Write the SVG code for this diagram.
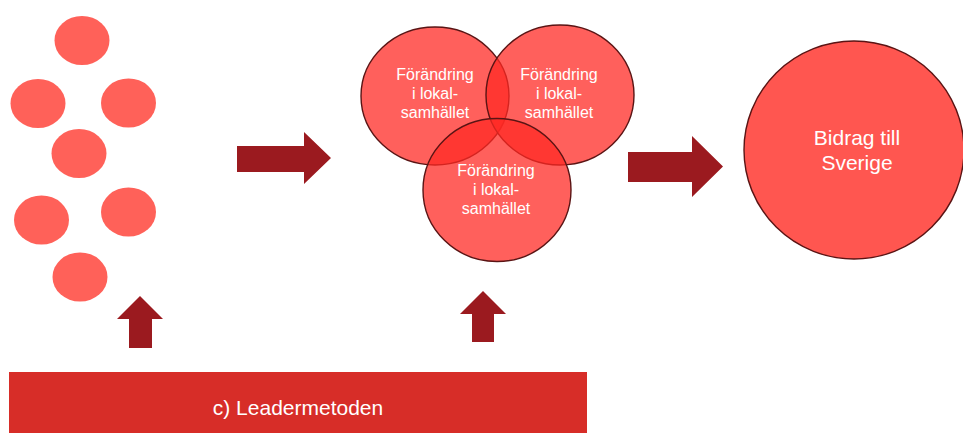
<svg xmlns="http://www.w3.org/2000/svg" width="963" height="433" viewBox="0 0 963 433">
<style>
.dot{fill:#FF6159}
.arrow{fill:#9B1A1F}
.venn{fill:rgb(255,40,35);fill-opacity:0.74;stroke:#5A1414;stroke-width:1.4}
.big{fill:#FF5650;stroke:#5A1414;stroke-width:1.4}
.t{font-family:"Liberation Sans",Arial,sans-serif;fill:#FFFFFF;text-anchor:middle}
.vt{font-size:16px}
</style>
<rect width="963" height="433" fill="#FFFFFF"/>
<g id="dots">
<ellipse class="dot" cx="82" cy="40.5" rx="27.5" ry="24.5"/>
<ellipse class="dot" cx="38" cy="103.5" rx="27.5" ry="24.5"/>
<ellipse class="dot" cx="128.5" cy="103" rx="27.5" ry="24.5"/>
<ellipse class="dot" cx="79" cy="153.5" rx="27.5" ry="24.5"/>
<ellipse class="dot" cx="41.5" cy="220" rx="27.5" ry="24.5"/>
<ellipse class="dot" cx="128.5" cy="212" rx="27.5" ry="24.5"/>
<ellipse class="dot" cx="80" cy="277" rx="27.5" ry="24.5"/>
</g>
<g id="connectors">
<polygon class="arrow" points="237,146 304,146 304,132 331,158 304,184 304,172 237,172"/>
<polygon class="arrow" points="628,152 692,152 692,136 723,166.5 692,197 692,182 628,182"/>
<polygon class="arrow" points="140,296 163,319 152,319 152,348 129,348 129,319 117,319"/>
<polygon class="arrow" points="483,291 506,314 494,314 494,342 472,342 472,314 460,314"/>
</g>
<g id="venn-a">
<ellipse class="venn" cx="435" cy="96" rx="74" ry="69"/>
</g>
<g id="venn-b">
<ellipse class="venn" cx="560" cy="95" rx="74" ry="70"/>
</g>
<g id="venn-c">
<ellipse class="venn" cx="497" cy="190" rx="74" ry="71.5"/>
</g>
<g id="venn-labels">
<text class="t vt" x="435" y="80">Förändring</text>
<text class="t vt" x="435" y="99">i lokal-</text>
<text class="t vt" x="435" y="118">samhället</text>
<text class="t vt" x="559" y="80">Förändring</text>
<text class="t vt" x="559" y="99">i lokal-</text>
<text class="t vt" x="559" y="118">samhället</text>
<text class="t vt" x="496" y="176">Förändring</text>
<text class="t vt" x="496" y="195">i lokal-</text>
<text class="t vt" x="496" y="214">samhället</text>
</g>
<g id="bidrag">
<ellipse class="big" cx="854" cy="150" rx="110" ry="109"/>
<text class="t" x="857" y="145" font-size="21">Bidrag till</text>
<text class="t" x="857" y="170" font-size="21">Sverige</text>
</g>
<g id="leadermetoden">
<rect x="9" y="372" width="578" height="61" fill="#D72D28"/>
<text class="t" x="298" y="415" font-size="21">c) Leadermetoden</text>
</g>
</svg>
